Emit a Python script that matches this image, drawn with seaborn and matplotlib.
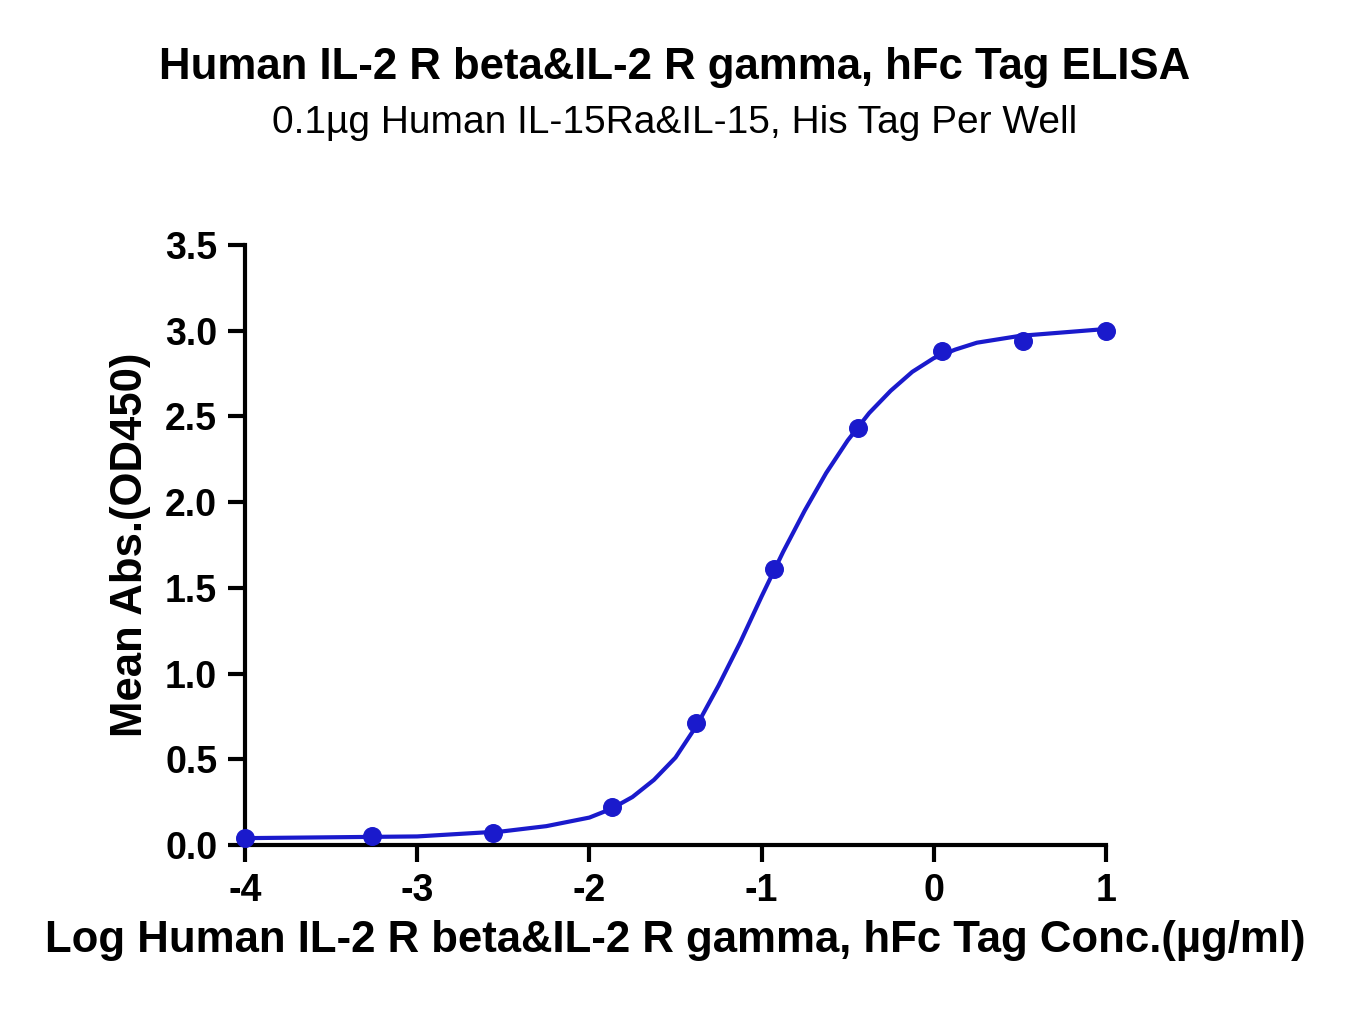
import matplotlib
matplotlib.use("Agg")
import matplotlib.pyplot as plt
import seaborn as sns
import pandas as pd

# measured points
log_conc = [-4.0, -3.26, -2.56, -1.87, -1.38, -0.93, -0.44, 0.05, 0.52, 1.0]
mean_abs = [0.04, 0.05, 0.07, 0.22, 0.71, 1.61, 2.43, 2.88, 2.94, 3.00]

# fitted curve
curve_x = [-4.0, -3.5, -3.0, -2.5, -2.25, -2.0, -1.875, -1.75, -1.625, -1.5, -1.375, -1.25,
           -1.125, -1.0, -0.875, -0.75, -0.625, -0.5, -0.375, -0.25, -0.125, 0.0,
           0.125, 0.25, 0.5, 0.75, 1.0]
curve_y = [0.04, 0.045, 0.05, 0.08, 0.11, 0.16, 0.21, 0.28, 0.38, 0.51, 0.70, 0.93,
           1.18, 1.45, 1.71, 1.95, 2.17, 2.36, 2.52, 2.65, 2.76, 2.84,
           2.89, 2.93, 2.97, 2.99, 3.01]

title = "Human IL-2 R beta&IL-2 R gamma, hFc Tag ELISA"
subtitle = "0.1µg Human IL-15Ra&IL-15, His Tag Per Well"
xlabel = "Log Human IL-2 R beta&IL-2 R gamma, hFc Tag Conc.(µg/ml)"
ylabel = "Mean Abs.(OD450)"

color = "#1a1acc"
sns.set_style("ticks")
plt.rcParams["font.family"] = "Liberation Sans"
plt.rcParams["text.color"] = "black"
plt.rcParams["axes.labelcolor"] = "black"
plt.rcParams["xtick.color"] = "black"
plt.rcParams["ytick.color"] = "black"
plt.rcParams["axes.edgecolor"] = "black"

fig = plt.figure(figsize=(13.5, 10.17), dpi=100)
ax = fig.add_axes([245 / 1350, 1 - 845 / 1017, (1106 - 245) / 1350, (845 - 245) / 1017])

sns.lineplot(data=pd.DataFrame({"x": curve_x, "y": curve_y}), x="x", y="y",
             ax=ax, color=color, lw=3)
sns.scatterplot(data=pd.DataFrame({"x": log_conc, "y": mean_abs}), x="x", y="y",
                ax=ax, color=color, s=160, edgecolor=color, zorder=5, clip_on=False)

ax.set_xlim(-4, 1)
ax.set_ylim(0, 3.5)
ax.set_xticks([-4, -3, -2, -1, 0, 1])
ax.set_xticklabels(["-4", "-3", "-2", "-1", "0", "1"])
ax.set_yticks([0, 0.5, 1, 1.5, 2, 2.5, 3, 3.5])
ax.set_yticklabels(["0.0", "0.5", "1.0", "1.5", "2.0", "2.5", "3.0", "3.5"])
for s in ["top", "right"]:
    ax.spines[s].set_visible(False)
for s in ["left", "bottom"]:
    ax.spines[s].set_linewidth(3)
ax.tick_params(width=3, length=12, labelsize=27, pad=8)
for lab in ax.get_xticklabels() + ax.get_yticklabels():
    lab.set_fontweight("bold")
ax.set_xlabel(xlabel, fontsize=31.5, fontweight="bold", labelpad=8)
ax.set_ylabel(ylabel, fontsize=31.5, fontweight="bold", labelpad=10)

fig.text(0.5, 1 - 68 / 1017, title, ha="center", va="center", fontsize=31.5, fontweight="bold")
fig.text(0.5, 1 - 123 / 1017, subtitle, ha="center", va="center", fontsize=28)

fig.savefig("out.png", dpi=100)
